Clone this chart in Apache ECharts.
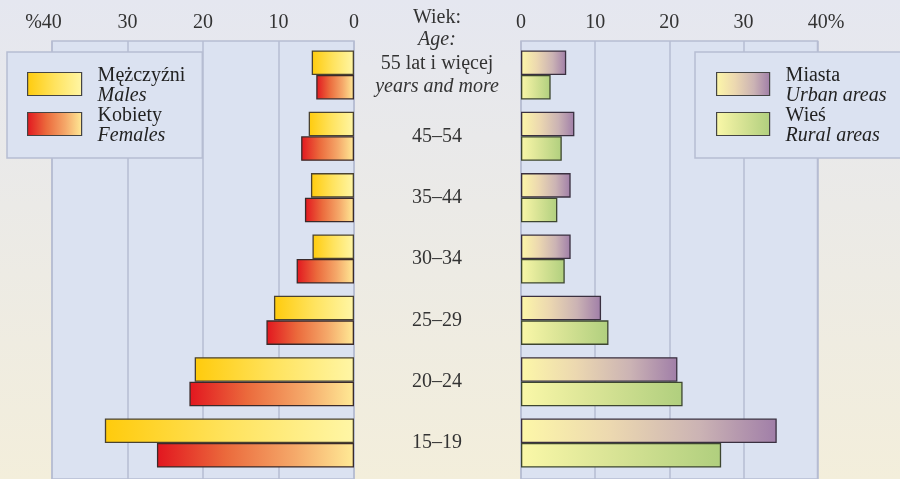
<!DOCTYPE html>
<html>
<head>
<meta charset="utf-8">
<script src="https://cdn.jsdelivr.net/npm/echarts@6/dist/echarts.min.js"></script>
<style>
html,body{margin:0;padding:0;}
#chart{width:900px;height:479px;}
</style>
</head>
<body>
<div id="chart"></div>
<script>
// ---- data ----
var categories = ['55 lat i więcej', '45–54', '35–44', '30–34', '25–29', '20–24', '15–19'];
var categoriesEn = {'55 lat i więcej': 'years and more'};
var males   = [5.6, 6.0, 5.7, 5.5, 10.6, 21.1, 33.0];
var females = [5.0, 7.0, 6.5, 7.6, 11.6, 21.8, 26.1];
var urban   = [6.1, 7.2, 6.7, 6.7, 10.8, 21.1, 34.5];
var rural   = [4.0, 5.5, 4.9, 5.9, 11.8, 21.8, 27.0];
var ticks = [0, 10, 20, 30, 40];
var seriesNames = {males: 'Mężczyźni', females: 'Kobiety', urban: 'Miasta', rural: 'Wieś'};
var seriesNamesEn = {'Mężczyźni': 'Males', 'Kobiety': 'Females', 'Miasta': 'Urban areas', 'Wieś': 'Rural areas'};
var headerPl = 'Wiek:', headerEn = 'Age:';

// ---- styles ----
var FONT = '"Liberation Serif", "Times New Roman", serif';
var TXT = '#333333';
var GRIDC = '#b6bdd2';
var PLOTBG = '#dbe2f1';
function grad(stops) {
  return new echarts.graphic.LinearGradient(0, 0, 1, 0, stops.map(function (s) { return {offset: s[0], color: s[1]}; }));
}
var gMales = grad([[0, '#ffcb0c'], [0.5, '#ffe35e'], [1, '#fff6a6']]);
var gFemales = grad([[0, '#e2161f'], [0.35, '#eb6a3c'], [0.7, '#f5a96a'], [1, '#ffea96']]);
var gUrban = grad([[0, '#fdf7a8'], [0.35, '#ecd8b0'], [0.7, '#cbb3b4'], [1, '#a07ea8']]);
var gRural = grad([[0, '#faf8a8'], [0.4, '#dde698'], [1, '#b0cf7e']]);

var chart = echarts.init(document.getElementById('chart'), null, {renderer: 'canvas'});

var bgGridL = {left: 52, top: 41, width: 302, bottom: -3};
var bgGridR = {left: 521, top: 41, width: 296.5, bottom: -3};
var barTop = 44.3, barBottom = 5.3;

function bgX(gridIndex, inverse, fmt) {
  return {
    type: 'value', gridIndex: gridIndex, min: ticks[0], max: ticks[ticks.length - 1], interval: 10,
    inverse: inverse, position: 'top',
    axisLine: {show: false}, axisTick: {show: false},
    splitLine: {show: true, lineStyle: {color: GRIDC, width: 1.5}},
    axisLabel: {margin: 8, color: TXT, fontFamily: FONT, fontSize: 20, formatter: fmt,
      rich: {l: {fontFamily: FONT, fontSize: 20, color: TXT, padding: [0, 17, 0, 0]},
             r: {fontFamily: FONT, fontSize: 20, color: TXT, padding: [0, 0, 0, 17]}}}
  };
}
function barX(gridIndex, inverse) {
  return {type: 'value', gridIndex: gridIndex, min: 0, max: 40, interval: 10, inverse: inverse, show: false};
}
function legendFmt(name) { return name + '\n{i|' + seriesNamesEn[name] + '}'; }
var legendText = {fontFamily: FONT, fontSize: 20, lineHeight: 20, color: '#222', padding: [4, 0, 0, 11],
  rich: {i: {fontFamily: FONT, fontSize: 20, lineHeight: 20, fontStyle: 'italic', color: '#222'}}};

var option = {
  backgroundColor: new echarts.graphic.LinearGradient(0, 0, 0, 1, [{offset: 0, color: '#e5e7f0'}, {offset: 1, color: '#f3eedb'}]),
  animation: false,
  grid: [
    Object.assign({show: true, backgroundColor: PLOTBG, borderColor: GRIDC, borderWidth: 1.5}, bgGridL),
    Object.assign({show: true, backgroundColor: PLOTBG, borderColor: GRIDC, borderWidth: 1.5}, bgGridR),
    {left: 52, width: 302, top: barTop, bottom: barBottom},
    {left: 521, width: 296.5, top: barTop, bottom: barBottom}
  ],
  xAxis: [
    bgX(0, true, function (v) { return v === 40 ? '{l|%40}' : String(v); }),
    bgX(1, false, function (v) { return v === 40 ? '{r|40%}' : String(v); }),
    barX(2, true),
    barX(3, false)
  ],
  yAxis: [
    {type: 'value', gridIndex: 0, show: false, min: 0, max: 1},
    {type: 'value', gridIndex: 1, show: false, min: 0, max: 1},
    {type: 'category', gridIndex: 2, data: categories, inverse: true, position: 'right',
      axisLine: {show: false}, axisTick: {show: false},
      axisLabel: {margin: 83, align: 'center', color: TXT, fontFamily: FONT, fontSize: 20, lineHeight: 23,
        formatter: function (v) { return categoriesEn[v] ? '{a|' + v + '}\n{b|' + categoriesEn[v] + '}' : v; },
        rich: {a: {fontFamily: FONT, fontSize: 20, lineHeight: 23, color: TXT},
               b: {fontFamily: FONT, fontSize: 20, lineHeight: 23, color: TXT, fontStyle: 'italic'}}}},
    {type: 'category', gridIndex: 3, data: categories, inverse: true, show: false}
  ],
  legend: [
    {data: [seriesNames.males, seriesNames.females], orient: 'vertical', left: 7, top: 52,
      backgroundColor: PLOTBG, borderColor: GRIDC, borderWidth: 1.5, padding: [10, 17, 12, 20],
      itemWidth: 54, itemHeight: 23, itemGap: -4, icon: 'rect', selectedMode: false,
      itemStyle: {borderColor: '#444', borderWidth: 1.2},
      formatter: legendFmt, textStyle: legendText},
    {data: [seriesNames.urban, seriesNames.rural], orient: 'vertical', left: 695, top: 52,
      backgroundColor: PLOTBG, borderColor: GRIDC, borderWidth: 1.5, padding: [10, 50, 12, 21],
      itemWidth: 53, itemHeight: 23, itemGap: -4, icon: 'rect', selectedMode: false,
      itemStyle: {borderColor: '#444', borderWidth: 1.2},
      formatter: legendFmt, textStyle: legendText}
  ],
  graphic: [
    {type: 'text', x: 437, y: 7, z: 10, style: {
      text: '{a|' + headerPl + '}\n{b|' + headerEn + '}', align: 'center', verticalAlign: 'top',
      rich: {a: {fontFamily: FONT, fontSize: 20, lineHeight: 22, fill: TXT},
             b: {fontFamily: FONT, fontSize: 20, lineHeight: 22, fill: TXT, fontStyle: 'italic'}}}}
  ],
  series: [
    {name: seriesNames.males, type: 'bar', xAxisIndex: 2, yAxisIndex: 2, data: males, barGap: '0%', barCategoryGap: '20%',
      itemStyle: {color: gMales, borderColor: '#4a4230', borderWidth: 1.3}},
    {name: seriesNames.females, type: 'bar', xAxisIndex: 2, yAxisIndex: 2, data: females, barGap: '0%', barCategoryGap: '20%',
      itemStyle: {color: gFemales, borderColor: '#3a2a2a', borderWidth: 1.3}},
    {name: seriesNames.urban, type: 'bar', xAxisIndex: 3, yAxisIndex: 3, data: urban, barGap: '0%', barCategoryGap: '20%',
      itemStyle: {color: gUrban, borderColor: '#3a3040', borderWidth: 1.3}},
    {name: seriesNames.rural, type: 'bar', xAxisIndex: 3, yAxisIndex: 3, data: rural, barGap: '0%', barCategoryGap: '20%',
      itemStyle: {color: gRural, borderColor: '#3d4630', borderWidth: 1.3}}
  ]
};
chart.setOption(option);
</script>
</body>
</html>
